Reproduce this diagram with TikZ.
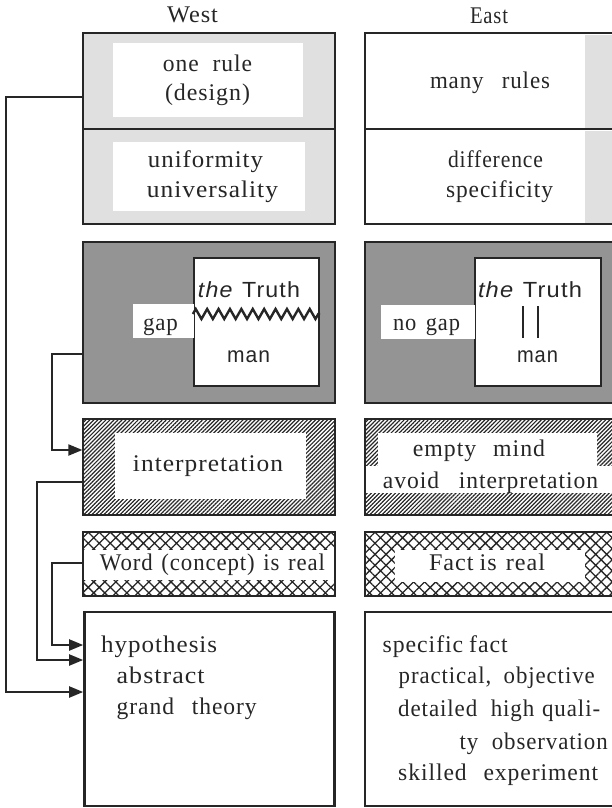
\documentclass[tikz,border=0pt]{standalone}
\usepackage{fontspec}
\usepackage{graphicx}
\setmainfont{Liberation Serif}[LetterSpace=4]
\newfontfamily\helv{Liberation Sans}[LetterSpace=5]
\usetikzlibrary{patterns.meta,arrows.meta,decorations.pathmorphing}
\newcommand\gp[1]{\hspace{#1bp}}
\newcommand\fw[2]{\resizebox{#1bp}{\height}{#2}}
\begin{document}
\begin{tikzpicture}[x=1bp,y=-1bp,
  frame/.style={draw=black!85, line width=2.6bp, inner sep=0pt},
  inbox/.style={draw=black!85, line width=2.2bp, fill=white, inner sep=0pt},
  conn/.style={draw=black!85, line width=2bp, -{Triangle[length=14bp,width=11bp]}},
  txt/.style={inner sep=0pt, anchor=base, text=black!85, font=\fontsize{24}{30}\selectfont},
  ltxt/.style={txt, anchor=base west},
  stxt/.style={inner sep=0pt, anchor=base, text=black!85, font=\helv\fontsize{22}{26}\selectfont},
  blank/.style={fill=white, draw=none, inner sep=0pt},
  hatch/.style={pattern={Lines[angle=45,distance=2.85bp,line width=1.2bp]}, pattern color=black!85},
  diam/.style={pattern={Hatch[angle=45,distance=7.8bp,line width=1.3bp]}, pattern color=black!85},
  litegray/.style={fill=gray!24},
  darkgray/.style={fill=black!42}
]
\useasboundingbox (0,0) rectangle (612,808);
\clip (0,0) rectangle (612,808);

% headings
\node[txt] (west) at (192.5,23) {\fw{51}{West}};
\node[txt] (east) at (489,24) {\fw{38}{East}};

% row 1 west
\node[frame, litegray, minimum width=252bp, minimum height=96bp] (rule) at (209,81) {};
\node[frame, litegray, minimum width=252bp, minimum height=95bp] (unif) at (209,176.5) {};
\fill[white] (113,43) rectangle (303,117);
\fill[white] (113,142) rectangle (305,211);
\node[txt] (ruleT) at (207.5,72) {\fw{89}{one\gp{14}rule}};
\node[txt] (designT) at (207.5,100) {\fw{85}{(design)}};
\node[txt] (unifT) at (205.5,167) {\fw{115}{uniformity}};
\node[txt] (univT) at (212.5,197) {\fw{131}{universality}};

% row 1 east
\fill[gray!24] (585,35) rectangle (620,127.5);
\fill[gray!24] (585,130.5) rectangle (620,222.5);
\node[frame, minimum width=260bp, minimum height=96bp] (many) at (495,81) {};
\node[frame, minimum width=260bp, minimum height=95bp] (diff) at (495,176.5) {};
\node[txt] (manyT) at (490,88) {\fw{120}{many\gp{19}rules}};
\node[txt] (diffT) at (495.5,167) {\fw{95}{difference}};
\node[txt] (specT) at (499.5,197) {\fw{107}{specificity}};

% row 2 west
\node[frame, darkgray, minimum width=252bp, minimum height=161bp] (gapbox) at (209,322.5) {};
\node[inbox, minimum width=125bp, minimum height=128bp] (truthW) at (256.5,322) {};
\node[blank, minimum width=61bp, minimum height=34bp] (gapW) at (163.5,321) {};
\node[txt] (gapT) at (160.5,330) {\fw{35}{gap}};
\node[stxt] (theW) at (249,297) {\fw{102}{\itshape the\upshape\gp{9}Truth}};
\draw[line width=2.4bp, black!85, decorate, decoration={zigzag, segment length=11.4bp, amplitude=5bp}]
  ([yshift=8bp]truthW.west) -- ([yshift=8bp]truthW.east);
\node[stxt] (manW) at (248.5,362) {\fw{43}{man}};

% row 2 east
\node[frame, darkgray, minimum width=260bp, minimum height=161bp] (nogapbox) at (495,322.5) {};
\node[inbox, minimum width=126bp, minimum height=128bp] (truthE) at (538,322) {};
\node[blank, minimum width=94bp, minimum height=34bp] (nogapE) at (428,322) {};
\node[txt] (nogapT) at (426.5,330) {\fw{67}{no\gp{10}gap}};
\node[stxt] (theE) at (530,297) {\fw{104}{\itshape the\upshape\gp{9}Truth}};
\draw[line width=2.4bp, black!85] (523,306) -- (523,338) (538,306) -- (538,338);
\node[stxt] (manE) at (537.5,362) {\fw{41}{man}};

% row 3 west
\node[frame, hatch, minimum width=252bp, minimum height=96bp] (interp) at (209,467) {};
\node[blank, minimum width=191bp, minimum height=66bp] (interpW) at (210.5,466) {};
\node[txt] (interpT) at (208,471.5) {\fw{150}{interpretation}};

% row 3 east
\node[frame, hatch, minimum width=260bp, minimum height=96bp] (empty) at (495,467) {};
\fill[white] (378,433) rectangle (597,493);
\fill[white] (366.3,466) rectangle (620,493);
\node[txt] (emptyT) at (479,456.5) {\fw{132}{empty\gp{17}mind}};
\node[txt] (avoidT) at (490.5,488) {\fw{215}{avoid\gp{20}interpretation}};

% row 4 west
\node[frame, diam, minimum width=252bp, minimum height=64bp] (word) at (209,564) {};
\fill[white] (84.3,550) rectangle (333.7,580);
\node[txt] (wordT) at (212.5,570) {\fw{225}{Word\gp{9}(concept)\gp{9}is\gp{9}real}};

% row 4 east
\node[frame, diam, minimum width=260bp, minimum height=64bp] (fact) at (495,564) {};
\fill[white] (395,550) rectangle (585,582);
\node[txt] (factT) at (487,570) {\fw{116}{Fact\gp{6}is\gp{9}real}};

% row 5
\node[frame, minimum width=250bp, minimum height=194bp] (hyp) at (209.5,709) {};
\node[frame, minimum width=260bp, minimum height=194bp] (spec) at (495,709) {};
\node[ltxt] (h1) at (101,652) {\fw{116}{hypothesis}};
\node[ltxt] (h2) at (116.5,683.5) {\fw{88}{abstract}};
\node[ltxt] (h3) at (116.5,714) {\fw{140}{grand\gp{18}theory}};
\node[ltxt] (s1) at (382.5,652) {\fw{125}{specific\gp{6}fact}};
\node[ltxt] (s2) at (398.5,683.5) {\fw{196}{practical,\gp{13}objective}};
\node[ltxt] (s3) at (398,716) {\fw{202}{detailed\gp{14}high\gp{8}quali-}};
\node[ltxt] (s4) at (459.5,749) {\fw{148}{ty\gp{14}observation}};
\node[ltxt] (s5) at (398,780) {\fw{200}{skilled\gp{17}experiment}};

% connectors
\draw[conn] ([yshift=-16bp]rule.west) -- ++(-76,0) |- ([yshift=17bp]hyp.west);
\draw[conn] ([yshift=-31.5bp]gapbox.west) -- ++(-30,0) |- ([yshift=17bp]interp.west);
\draw[conn] ([yshift=-15bp]interp.west) -- ++(-45,0) |- ([yshift=49bp]hyp.west);
\draw[conn] ([yshift=1bp]word.west) -- ++(-30,0) |- ([yshift=64bp]hyp.west);
\end{tikzpicture}
\end{document}
